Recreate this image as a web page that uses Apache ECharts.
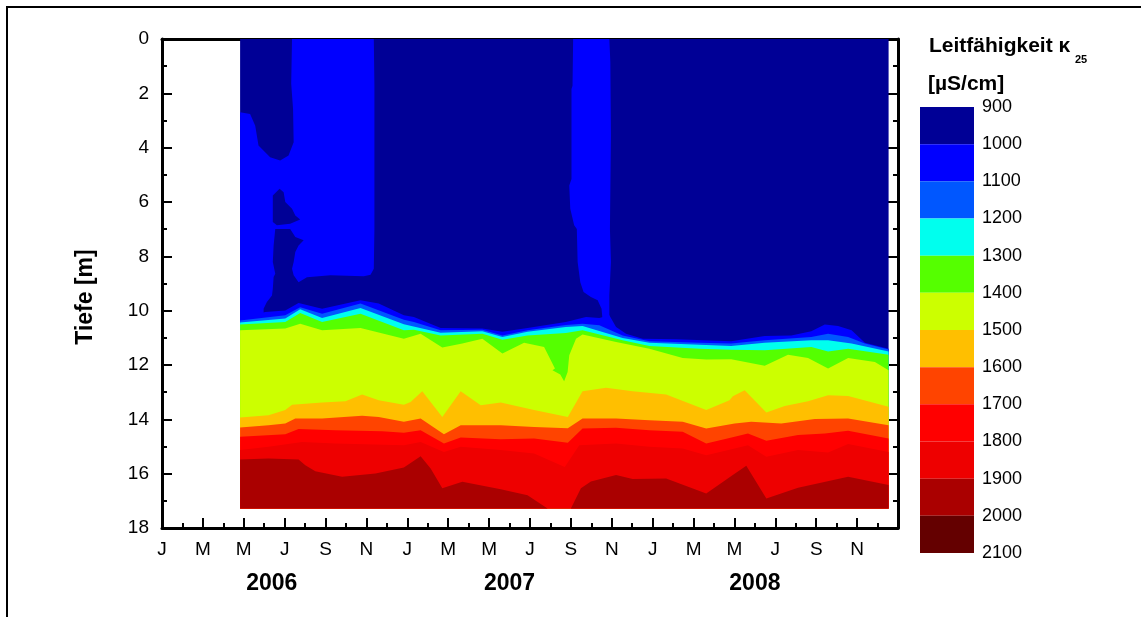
<!DOCTYPE html>
<html><head><meta charset="utf-8">
<script src="https://cdn.jsdelivr.net/npm/echarts@6/dist/echarts.min.js"></script>
<style>html,body{margin:0;padding:0;background:#fff}#c{width:1141px;height:617px}</style>
</head><body><div id="c"></div>
<script>
// ---- axis / label data ----
const monthLetters = ['J','F','M','A','M','J','J','A','S','O','N','D'];
const yearLabels = ['2006','2007','2008'];
const yearPositions = [5.37, 17, 29];          // months since Jan 2006
const levels = [900,1000,1100,1200,1300,1400,1500,1600,1700,1800,1900,2000];
const levelColors = ['#000096','#0000FF','#0057FF','#00FFEE','#55FF00','#CCFF00',
                     '#FFBF00','#FF4400','#FF0000','#EE0000','#AA0000','#640000'];
// ---- data extent (months since Jan 2006, depth m) ----
const dataStart = 3.82, dataEnd = 35.54, maxDepth = 17.28;
// ---- low-conductivity patches in the upper layer [month, depth] ----
const patch1 = [[3.82,2.70],[4.31,2.76],[4.56,3.19],[4.72,3.92],[5.29,4.35],[5.78,4.47],[6.19,4.29],[6.44,3.80],[6.41,2.57],[6.32,1.65],[6.36,0],[10.36,0],[10.39,1.72],[10.39,6.99],[10.36,8.46],[10.20,8.68],[9.87,8.73],[8.24,8.70],[7.09,8.77],[6.68,8.95],[6.44,8.70],[6.36,8.46],[6.44,8.21],[6.52,7.84],[6.68,7.60],[6.93,7.41],[6.52,7.29],[6.27,6.99],[5.54,6.99],[5.46,7.60],[5.42,8.21],[5.54,8.64],[5.46,8.76],[5.42,9.19],[5.38,9.44],[5.13,9.68],[4.97,9.93],[4.97,10.11],[3.82,10.42]];
const intrusionA = [[5.75,5.51],[5.95,5.64],[6.03,6.00],[6.36,6.25],[6.52,6.50],[6.76,6.64],[6.27,6.80],[5.62,6.86],[5.42,6.74],[5.42,5.76]];
const patch2 = [[20.11,0],[20.08,1.72],[20.03,1.84],[20.03,5.15],[19.92,5.39],[19.97,6.25],[20.16,6.86],[20.29,6.99],[20.33,8.21],[20.46,8.95],[20.62,9.31],[20.98,9.50],[21.31,9.62],[21.50,9.93],[21.55,10.36],[21.96,10.42],[21.88,10.17],[21.88,9.44],[21.96,8.21],[21.91,6.99],[21.96,3.55],[21.93,0.86],[21.88,0]];
// ---- isoline depths (top of each class) [month, depth] ----
const b1000 = [[3.82,10.30],[5.05,10.05],[6.03,9.99],[6.68,9.72],[7.83,9.93],[9.71,9.62],[10.60,9.74],[11.83,10.17],[12.32,10.23],[13.63,10.64],[15.67,10.66],[16.65,10.78],[17.88,10.64],[19.75,10.42],[20.74,10.23],[21.39,10.27],[21.88,10.17],[22.21,10.60],[22.70,10.85],[23.51,11.03],[25.15,11.05],[27.84,11.13],[29.48,10.93],[30.78,10.91],[31.76,10.76],[32.42,10.51],[33.07,10.56],[33.73,10.72],[34.38,11.18],[35.54,11.40]];
const b1100 = [[3.82,10.36],[6.03,10.17],[6.76,9.87],[7.83,10.11],[9.71,9.74],[11.83,10.33],[12.32,10.42],[13.63,10.72],[15.67,10.70],[16.65,10.91],[17.88,10.72],[19.75,10.53],[20.57,10.48],[21.39,10.54],[22.53,10.91],[23.84,11.13],[26.29,11.18],[27.84,11.21],[29.48,11.09],[31.76,10.97],[32.58,10.85],[33.56,10.97],[34.38,11.21],[35.54,11.43]];
const b1200 = [[3.82,10.44],[6.03,10.29],[6.76,9.95],[7.83,10.27],[9.71,9.90],[11.83,10.50],[13.63,10.81],[15.67,10.76],[16.65,10.97],[17.88,10.78],[19.75,10.60],[20.57,10.56],[22.53,11.01],[23.84,11.18],[26.29,11.25],[27.84,11.30],[29.48,11.18],[31.76,11.09],[32.58,11.09],[33.73,11.21],[35.54,11.50]];
const b1300 = [[3.82,10.51],[6.03,10.42],[6.76,10.09],[7.83,10.42],[9.71,10.11],[11.83,10.72],[12.32,10.70],[13.63,10.91],[15.67,10.85],[16.65,11.07],[17.88,10.91],[19.75,10.82],[20.57,10.72],[22.53,11.09],[23.84,11.30],[26.29,11.40],[27.84,11.44],[29.48,11.46],[31.76,11.34],[32.58,11.50],[33.56,11.40],[35.54,11.62]];
const b1400 = [[3.82,10.72],[6.03,10.66],[6.76,10.48],[7.83,10.72],[9.71,10.64],[11.83,11.03],[12.65,10.85],[13.71,11.36],[14.69,11.21],[15.67,11.03],[16.65,11.58],[17.71,11.18],[18.69,11.34],[19.22,12.13],[19.10,12.19],[19.48,12.35],[19.67,12.60],[19.84,12.26],[19.92,11.64],[20.25,11.03],[20.57,10.88],[22.21,11.15],[23.84,11.40],[25.47,11.74],[26.62,11.80],[27.84,11.79],[29.48,12.03],[30.62,11.62],[31.60,11.74],[32.58,12.13],[33.56,11.74],[34.87,11.89],[35.54,12.19]];
const b1500 = [[3.82,13.93],[5.21,13.85],[6.03,13.66],[6.36,13.46],[7.83,13.38],[8.97,13.33],[9.79,13.09],[10.60,13.30],[11.83,13.46],[12.16,13.36],[12.73,12.97],[13.71,13.91],[14.61,12.97],[15.59,13.48],[16.57,13.38],[18.20,13.66],[19.85,13.91],[20.57,12.97],[21.72,12.84],[23.02,12.97],[24.66,13.09],[26.62,13.66],[27.76,13.30],[27.92,13.15],[28.50,12.93],[29.56,13.75],[30.46,13.51],[31.60,13.33],[32.58,13.11],[33.56,13.14],[35.54,13.54]];
const b1600 = [[3.82,14.30],[5.21,14.22],[6.03,14.15],[6.52,13.97],[7.83,13.97],[9.79,13.87],[10.60,13.91],[11.83,14.09],[12.65,13.97],[13.79,14.55],[14.61,14.22],[16.57,14.22],[18.20,14.28],[19.85,14.33],[20.57,13.97],[22.21,13.97],[23.84,14.03],[25.47,14.09],[26.62,14.34],[28.01,14.15],[28.82,14.09],[30.29,14.15],[31.93,13.99],[33.56,13.97],[35.54,14.22]];
const b1700 = [[3.82,14.64],[6.03,14.55],[6.68,14.36],[8.48,14.40],[10.77,14.44],[11.83,14.49],[12.65,14.40],[13.79,14.89],[14.61,14.67],[16.57,14.73],[18.20,14.71],[19.85,14.86],[20.57,14.34],[22.21,14.31],[23.84,14.40],[25.47,14.46],[26.62,14.89],[28.01,14.64],[28.66,14.52],[29.56,14.79],[31.11,14.58],[32.42,14.52],[33.56,14.42],[35.54,14.71]];
const b1800 = [[3.82,15.13],[5.21,15.01],[6.85,14.83],[8.48,14.89],[11.83,14.95],[12.65,14.83],[13.79,15.20],[14.61,15.01],[16.57,15.13],[18.20,15.26],[19.70,15.75],[20.41,14.95],[22.21,14.89],[23.84,15.01],[25.47,15.07],[26.62,15.32],[28.01,15.07],[28.66,14.95],[29.56,15.38],[31.11,15.13],[32.58,15.22],[33.56,14.91],[35.54,15.20]];
const b1900 = [[3.82,15.48],[5.21,15.44],[6.68,15.48],[7.01,15.69],[7.50,15.91],[8.81,16.11],[10.44,15.99],[11.83,15.77],[12.65,15.36],[13.14,15.81],[13.71,16.54],[14.69,16.30],[16.57,16.57],[17.88,16.79],[18.69,17.20],[18.86,17.28],[20.00,17.28],[20.49,16.54],[20.98,16.29],[22.21,16.05],[23.02,16.20],[24.66,16.18],[26.62,16.73],[27.92,16.05],[28.58,15.71],[29.56,16.91],[31.11,16.52],[33.56,16.11],[35.54,16.42]];

// ---- build painter's-order layers ----
const background = [[dataStart,0],[dataEnd,0],[dataEnd,maxDepth],[dataStart,maxDepth]];
const toBand = b => b.concat([[dataEnd,maxDepth],[dataStart,maxDepth]]);
const layers = [
  {pts: background, c: 0}, {pts: patch1, c: 1}, {pts: intrusionA, c: 0}, {pts: patch2, c: 1},
  {pts: toBand(b1000), c: 1}, {pts: toBand(b1100), c: 2}, {pts: toBand(b1200), c: 3},
  {pts: toBand(b1300), c: 4}, {pts: toBand(b1400), c: 5}, {pts: toBand(b1500), c: 6},
  {pts: toBand(b1600), c: 7}, {pts: toBand(b1700), c: 8}, {pts: toBand(b1800), c: 9},
  {pts: toBand(b1900), c: 10}
];

const FONT = 'Liberation Sans';
const chart = echarts.init(document.getElementById('c'), null, {renderer: 'canvas'});
const tickStyle = {color: '#000', width: 2};
chart.setOption({
  animation: false,
  backgroundColor: '#fff',
  textStyle: {fontFamily: FONT, color: '#000'},
  grid: [
    {left: 162, top: 39, width: 736, height: 489},
    {left: 920, top: 107, width: 54, height: 446}
  ],
  xAxis: [
    {gridIndex: 0, type: 'value', position: 'bottom', min: 0, max: 36, interval: 2,
     axisLine: {onZero: false, lineStyle: {color: '#000', width: 3}},
     axisTick: {inside: true, length: 10, lineStyle: tickStyle},
     minorTick: {show: true, splitNumber: 2, length: 5, lineStyle: tickStyle},
     splitLine: {show: false},
     axisLabel: {fontSize: 19, margin: 12, color: '#000', fontFamily: FONT,
       formatter: v => v < 36 ? monthLetters[Math.round(v) % 12] : ''}},
    {gridIndex: 0, type: 'value', position: 'top', min: 0, max: 36,
     axisLine: {onZero: false, lineStyle: {color: '#000', width: 3}}, axisTick: {show: false},
     axisLabel: {show: false}, splitLine: {show: false}},
    {gridIndex: 0, type: 'value', position: 'bottom', offset: 36, min: 0, max: 36,
     axisLine: {show: false, onZero: false}, axisTick: {show: false}, splitLine: {show: false},
     axisLabel: {customValues: yearPositions, fontSize: 23, fontWeight: 'bold', color: '#000', fontFamily: FONT,
       formatter: v => { const i = yearPositions.indexOf(v); return i >= 0 ? yearLabels[i] : ''; }}},
    {gridIndex: 1, type: 'value', min: 0, max: 1, show: false}
  ],
  yAxis: [
    {gridIndex: 0, type: 'value', position: 'left', inverse: true, min: 0, max: 18, interval: 2,
     axisLine: {onZero: false, lineStyle: {color: '#000', width: 3}},
     axisTick: {inside: true, length: 10, lineStyle: tickStyle},
     minorTick: {show: true, splitNumber: 2, length: 5, lineStyle: tickStyle},
     splitLine: {show: false},
     axisLabel: {fontSize: 19, margin: 13, color: '#000', fontFamily: FONT}},
    {gridIndex: 0, type: 'value', position: 'right', inverse: true, min: 0, max: 18, interval: 2,
     axisLine: {onZero: false, lineStyle: {color: '#000', width: 3}},
     axisTick: {inside: true, length: 10, lineStyle: tickStyle},
     minorTick: {show: true, splitNumber: 2, length: 5, lineStyle: tickStyle},
     splitLine: {show: false}, axisLabel: {show: false}},
    {gridIndex: 1, type: 'value', position: 'right', inverse: true, min: 900, max: 2100, interval: 100,
     axisLine: {show: false}, axisTick: {show: false}, splitLine: {show: false},
     axisLabel: {fontSize: 18, margin: 8, color: '#000', fontFamily: FONT, formatter: v => String(v)}}
  ],
  series: [
    {type: 'custom', xAxisIndex: 0, yAxisIndex: 0, silent: true, clip: true,
     data: layers.map(() => [dataStart, 0]),
     renderItem: (params, api) => {
       const L = layers[params.dataIndex];
       return {type: 'polygon', shape: {points: L.pts.map(p => api.coord(p))},
               style: {fill: levelColors[L.c], stroke: null}};
     }},
    {type: 'custom', xAxisIndex: 3, yAxisIndex: 2, silent: true,
     data: levels.map(v => [0, v]),
     renderItem: (params, api) => {
       const v = levels[params.dataIndex];
       const p0 = api.coord([0, v]), p1 = api.coord([1, v + 100]);
       return {type: 'rect', shape: {x: p0[0], y: Math.min(p0[1], p1[1]), width: p1[0] - p0[0], height: Math.abs(p1[1] - p0[1])},
               style: {fill: levelColors[params.dataIndex]}};
     }}
  ],
  graphic: [
    {type: 'rect', silent: true, shape: {x: 7, y: 7, width: 1300, height: 800},
     style: {fill: null, stroke: '#000', lineWidth: 2}},
    {type: 'text', x: 86, y: 297, rotation: Math.PI / 2,
     style: {text: 'Tiefe [m]', font: 'bold 23px "Liberation Sans"', fill: '#000', textAlign: 'center', textVerticalAlign: 'middle'}},
    {type: 'text', x: 929, y: 36, style: {text: 'Leitfähigkeit κ', font: 'bold 21px "Liberation Sans"', fill: '#000', textVerticalAlign: 'top'}},
    {type: 'text', x: 1075, y: 54, style: {text: '25', font: 'bold 11px "Liberation Sans"', fill: '#000', textVerticalAlign: 'top'}},
    {type: 'text', x: 928, y: 74, style: {text: '[µS/cm]', font: 'bold 21px "Liberation Sans"', fill: '#000', textVerticalAlign: 'top'}}
  ]
});
</script></body></html>
